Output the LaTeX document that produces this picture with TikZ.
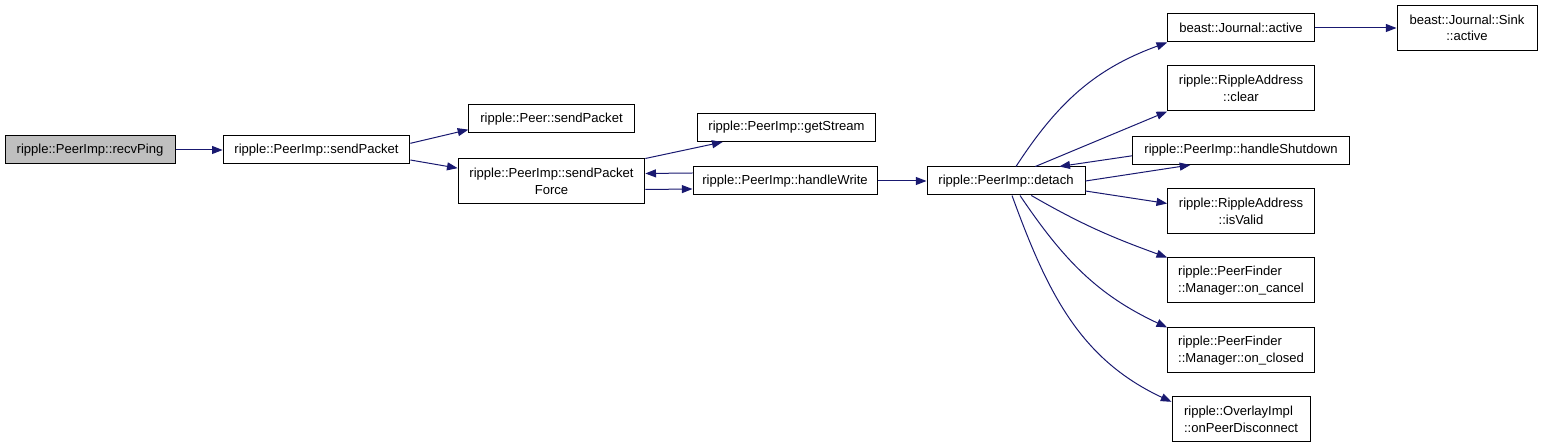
\documentclass[tikz,border=0pt]{standalone}
\usepackage{fontspec}
\setmainfont{Liberation Sans}
\usetikzlibrary{arrows.meta}
\definecolor{callblue}{HTML}{191970}
\definecolor{callgrey}{HTML}{BFBFBF}
\tikzset{
  >={Triangle[length=8pt,width=6pt]},
  font=\fontsize{9.8}{12.5}\selectfont,
  fn/.style={draw=black,line width=0.75pt,fill=white,inner sep=2pt,
             minimum height=21pt,align=center},
  fn2/.style={fn,minimum height=33.75pt},
  root/.style={fn,fill=callgrey},
  call/.style={->,line width=0.75pt,draw=callblue},
}

\begin{document}
\begin{tikzpicture}[x=0.75pt,y=0.75pt]
  \useasboundingbox (0,0) rectangle (1541,-448);

  % ---- caller chain ----
  \node[root,minimum width=127.5pt] (recv) at (90,-150) {ripple::PeerImp::recvPing};
  \node[fn,minimum width=140pt] (send) at (316.5,-150) {ripple::PeerImp::sendPacket};
  \node[fn,minimum width=124pt] (psend) at (551.5,-119) {ripple::Peer::sendPacket};
  \node[fn2,minimum width=140pt] (force) at (551.5,-181.5) {ripple::PeerImp::sendPacket\\Force};
  \node[fn,minimum width=134pt] (stream) at (786.5,-127.5) {ripple::PeerImp::getStream};
  \node[fn,minimum width=138pt] (write) at (785,-181) {ripple::PeerImp::handleWrite};
  \node[fn,minimum width=118.5pt] (detach) at (1006,-181) {ripple::PeerImp::detach};

  % ---- callees of detach ----
  \node[fn,minimum width=110pt] (jactive) at (1241,-28) {beast::Journal::active};
  \node[fn2,minimum width=105pt] (sink) at (1467,-28) {beast::Journal::Sink\\::active};
  \node[fn2,minimum width=110pt] (clear) at (1241,-88.5) {ripple::RippleAddress\\::clear};
  \node[fn,minimum width=163pt] (shut) at (1241,-150.5) {ripple::PeerImp::handleShutdown};
  \node[fn2,minimum width=110pt] (valid) at (1241,-211.5) {ripple::RippleAddress\\::isValid};
  \node[fn2,minimum width=110pt,align=left] (cancel) at (1241,-280.5) {ripple::PeerFinder\\::Manager::on\_cancel};
  \node[fn2,minimum width=110pt,align=left] (closed) at (1241,-350.5) {ripple::PeerFinder\\::Manager::on\_closed};
  \node[fn2,minimum width=103.5pt,align=left] (discon) at (1241,-419.5) {ripple::OverlayImpl\\::onPeerDisconnect};

  % ---- calls ----
  \draw[call] (recv) -- (send);
  \draw[call] ([yshift=5pt]send.east) -- ([yshift=-8pt]psend.west);
  \draw[call] ([yshift=-7.5pt]send.east) -- ([yshift=10pt]force.west);
  \draw[call] (force.north east) -- ([xshift=19.5pt]stream.south west);
  \draw[call] ([yshift=-6pt]force.east) -- ([yshift=-6pt]write.west);
  \draw[call] ([yshift=6pt]write.west) -- ([yshift=6pt]force.east);
  \draw[call] (write) -- (detach);
  \draw[call] ([xshift=7.5pt]detach.north) to[out=57,in=200] (jactive.south west);
  \draw[call] (jactive) -- (sink);
  \draw[call] ([xshift=22pt]detach.north) -- (clear.south west);
  \draw[call] (detach.east) -- ([xshift=-38pt]shut.south);
  \draw[call] ([yshift=-4pt]shut.west) -- ([xshift=40pt]detach.north);
  \draw[call] ([yshift=-7.5pt]detach.east) -- ([yshift=6pt]valid.west);
  \draw[call] ([xshift=19pt]detach.south) to[out=-30,in=160] (cancel.north west);
  \draw[call] ([xshift=10.5pt]detach.south) to[out=-56,in=155] (closed.north west);
  \draw[call] ([xshift=4.5pt]detach.south) to[out=-70,in=155] ([yshift=-4pt]discon.north west);
\end{tikzpicture}
\end{document}
